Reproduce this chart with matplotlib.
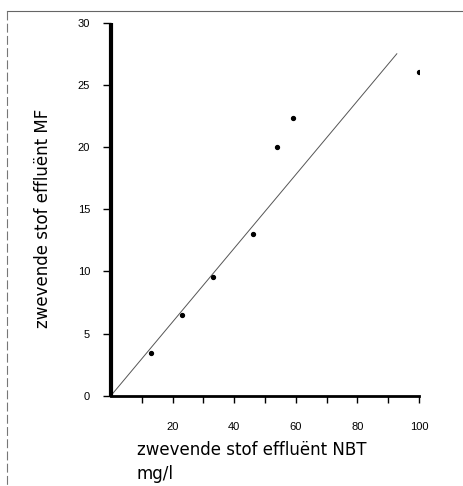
import matplotlib
matplotlib.use("Agg")
import matplotlib.pyplot as plt
from matplotlib.lines import Line2D

# data
nbt = [12.9, 23.0, 33.1, 46.2, 54.0, 59.2, 100.0]
mf = [3.46, 6.5, 9.53, 13.0, 20.0, 22.3, 26.0]
line_x = [0.0, 92.8]
line_y = [0.0, 27.5]
xticks_major = [20, 40, 60, 80, 100]
xticks_minor = [10, 30, 50, 70, 90]
yticks = [0, 5, 10, 15, 20, 25, 30]
xlabel = "zwevende stof effluënt NBT\nmg/l"
ylabel = "zwevende stof effluënt MF"

plt.rcParams['font.family'] = ['Liberation Sans', 'DejaVu Sans']

W, H = 463, 486
fig = plt.figure(figsize=(W / 100, H / 100), dpi=100)
ax = fig.add_axes([110.9 / W, (H - 395.7) / H, (419 - 110.9) / W, (395.7 - 22.7) / H])

ax.plot(line_x, line_y, color='#555555', lw=0.7)
ax.plot(nbt, mf, 'o', color='black', ms=2.8)

ax.set_xlim(0, 100)
ax.set_ylim(0, 30)
ax.spines['top'].set_visible(False)
ax.spines['right'].set_visible(False)
ax.spines['left'].set_linewidth(3.0)
ax.spines['bottom'].set_linewidth(2.0)
ax.spines['left'].set_capstyle('butt')

ax.set_xticks(xticks_major)
ax.set_xticks(xticks_minor, minor=True)
ax.set_yticks(yticks)
ax.tick_params(axis='x', which='both', direction='out', length=5, width=1, pad=14, labelsize=8)
ax.tick_params(axis='y', which='both', direction='out', length=6, width=1, pad=9, labelsize=8)

lab_font = dict(family=['DejaVu Sans'], fontsize=12)
fig.text(137 / W, 1 - 441 / H, xlabel, ha='left', va='top', linespacing=1.4, **lab_font)
fig.text(43 / W, 1 - 218 / H, ylabel, ha='center', va='center', rotation=90, **lab_font)

# scan frame lines
fig.add_artist(Line2D([7 / W, 1.0], [1 - 11 / H, 1 - 11 / H], color='#666666', lw=0.8))
fig.add_artist(Line2D([7 / W, 7 / W], [1 - 11 / H, 0.0], color='#777777', lw=0.8, ls=(0, (8, 3))))

fig.savefig("out.png", dpi=100)
